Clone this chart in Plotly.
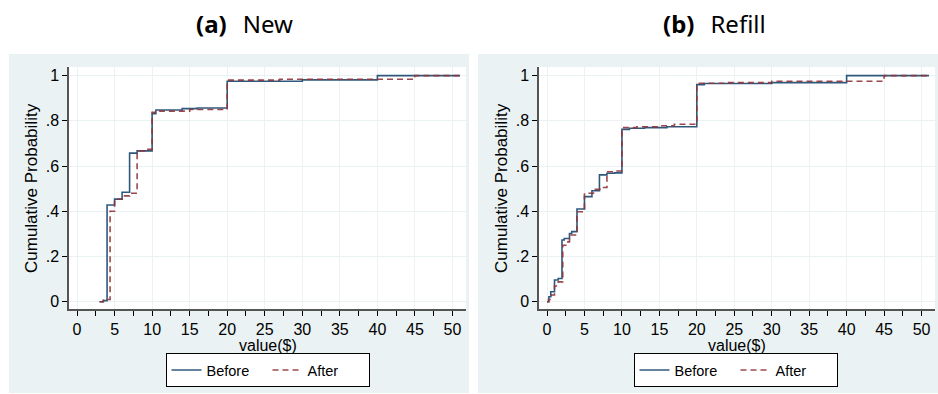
import plotly.graph_objects as go

# ---------------- data ----------------
# Panel (a) New
new_before_x = [3, 3.5, 4, 5, 6, 7, 8, 10, 10.5, 14, 16, 20, 30, 40, 51]
new_before_y = [0, 0.005, 0.428, 0.454, 0.484, 0.657, 0.667, 0.832, 0.848, 0.854, 0.857, 0.975, 0.981, 1.0, 1.0]
new_after_x = [3, 3.5, 4.4, 5, 6, 7, 8, 9, 10, 11, 15, 20, 27, 45, 51]
new_after_y = [0, 0.01, 0.40, 0.453, 0.468, 0.48, 0.667, 0.674, 0.838, 0.843, 0.85, 0.98, 0.984, 1.0, 1.0]

# Panel (b) Refill
ref_before_x = [0, 0.25, 0.5, 1, 1.5, 2, 2.3, 3, 3.3, 4, 5, 6, 7, 8, 9, 10, 11, 13, 16, 20, 21, 30, 40, 51]
ref_before_y = [0, 0.022, 0.044, 0.096, 0.103, 0.273, 0.28, 0.302, 0.31, 0.41, 0.465, 0.491, 0.561, 0.568, 0.57,
                0.762, 0.767, 0.770, 0.774, 0.960, 0.965, 0.969, 1.0, 1.0]
ref_after_x = [0, 0.2, 0.6, 1, 1.5, 2.1, 2.5, 3, 4, 5, 6.2, 7.3, 8, 9, 10, 12, 15, 17, 20, 24, 30, 45, 51]
ref_after_y = [0, 0.01, 0.03, 0.07, 0.088, 0.25, 0.265, 0.295, 0.398, 0.48, 0.497, 0.505, 0.575, 0.578,
               0.77, 0.774, 0.778, 0.785, 0.966, 0.969, 0.975, 1.0, 1.0]

y_tick_vals = [0, 0.2, 0.4, 0.6, 0.8, 1]
y_tick_text = ["0", ".2", ".4", ".6", ".8", "1"]
x_tick_vals = [0, 5, 10, 15, 20, 25, 30, 35, 40, 45, 50]
titles = ["<b>(a)</b>\u2002\u2009New", "<b>(b)</b>\u2002\u2009Refill"]
series_names = ["Before", "After"]

# ---------------- layout geometry (pixels) ----------------
W, H = 938, 394
BLUE = "#1a476f"
RED = "#90353b"
BG = "#eaf2f3"
TICKFONT = dict(family="Liberation Sans, Arial, sans-serif", size=16, color="#000000")

panels = [
    dict(gray=(9, 469), plot=(69, 466)),
    dict(gray=(478, 938), plot=(539, 935)),
]
plot_top, plot_bot = 67, 309
gray_top, gray_bot = 54, 393


def px(xp):
    return xp / W


def py(yp):
    return 1 - yp / H


fig = go.Figure()

data = [
    (new_before_x, new_before_y, new_after_x, new_after_y),
    (ref_before_x, ref_before_y, ref_after_x, ref_after_y),
]

for i, (bx, by, ax_, ay) in enumerate(data):
    xa = "x" if i == 0 else "x2"
    ya = "y" if i == 0 else "y2"
    leg = "legend" if i == 0 else "legend2"
    fig.add_trace(go.Scatter(x=bx, y=by, mode="lines", line=dict(color=BLUE, width=1.6, shape="hv"),
                             name=series_names[0], xaxis=xa, yaxis=ya, legend=leg, opacity=0.9))
    fig.add_trace(go.Scatter(x=ax_, y=ay, mode="lines",
                             line=dict(color=RED, width=1.6, shape="hv", dash="6px,4px"),
                             name=series_names[1], xaxis=xa, yaxis=ya, legend=leg, opacity=0.9))

shapes = []
annotations = []
for i, p in enumerate(panels):
    gx0, gx1 = p["gray"]
    x0, x1 = p["plot"]
    shapes.append(dict(type="rect", xref="paper", yref="paper", x0=px(gx0), x1=px(gx1),
                       y0=py(gray_bot), y1=py(gray_top), fillcolor=BG, line=dict(width=0), layer="below"))
    shapes.append(dict(type="rect", xref="paper", yref="paper", x0=px(x0), x1=px(x1),
                       y0=py(plot_bot), y1=py(plot_top), fillcolor="#ffffff", line=dict(width=0), layer="below"))
    cx = (x0 + x1) / 2
    # panel title
    annotations.append(dict(text=titles[i], xref="paper", yref="paper", x=px((gx0 + gx1) / 2 + 6),
                            y=py(24), xanchor="center", yanchor="middle", showarrow=False,
                            font=dict(family="Noto Sans, Open Sans, sans-serif", size=24, color="#000000")))
    # x-axis title
    annotations.append(dict(text="value($)", xref="paper", yref="paper", x=px(cx), y=py(345),
                            xanchor="center", yanchor="middle", showarrow=False,
                            font=dict(family="Liberation Sans, Arial, sans-serif", size=16, color="#000000")))
    # y-axis title
    annotations.append(dict(text="Cumulative Probability", xref="paper", yref="paper", x=px(x0 - 38),
                            y=py((plot_top + plot_bot) / 2), xanchor="center", yanchor="middle",
                            textangle=-90, showarrow=False,
                            font=dict(family="Liberation Sans, Arial, sans-serif", size=17, color="#000000")))

axis_common_x = dict(range=[-1.07, 51.8], tickmode="array", tickvals=x_tick_vals, ticks="outside",
                     ticklen=5, tickwidth=1, tickcolor="#000000", showline=True, linecolor="#555555",
                     linewidth=1.5, showgrid=True, gridcolor=BG, gridwidth=1, zeroline=False,
                     tickfont=TICKFONT, minor=dict(dtick=2.5, tick0=0, ticks="outside", ticklen=5,
                                                   tickcolor="#000000", showgrid=False),
                     fixedrange=True)
axis_common_y = dict(range=[-0.032, 1.038], tickmode="array", tickvals=y_tick_vals, ticktext=y_tick_text,
                     ticks="outside", ticklen=5, tickwidth=1, tickcolor="#000000", showline=True,
                     linecolor="#555555", linewidth=1.5, showgrid=True, gridcolor=BG, gridwidth=1,
                     zeroline=False, tickfont=TICKFONT, fixedrange=True)

legend_common = dict(orientation="h", xanchor="center", yanchor="top", bgcolor="#ffffff",
                     bordercolor="#000000", borderwidth=1,
                     font=dict(family="Liberation Sans, Arial, sans-serif", size=14.5, color="#000000"),
                     itemwidth=30, tracegroupgap=0, entrywidth=56)

fig.update_layout(
    width=W, height=H,
    margin=dict(l=0, r=0, t=0, b=0),
    paper_bgcolor="#ffffff",
    plot_bgcolor="#ffffff",
    showlegend=True,
    xaxis=dict(domain=[px(panels[0]["plot"][0]), px(panels[0]["plot"][1])], anchor="y", **axis_common_x),
    yaxis=dict(domain=[py(plot_bot), py(plot_top)], anchor="x", **axis_common_y),
    xaxis2=dict(domain=[px(panels[1]["plot"][0]), px(panels[1]["plot"][1])], anchor="y2", **axis_common_x),
    yaxis2=dict(domain=[py(plot_bot), py(plot_top)], anchor="x2", **axis_common_y),
    legend=dict(x=px(267.5), y=py(353), **legend_common),
    legend2=dict(x=px(735.5), y=py(353), **legend_common),
    shapes=shapes,
    annotations=annotations,
)

fig.write_html("out.html", config={"displayModeBar": False})
